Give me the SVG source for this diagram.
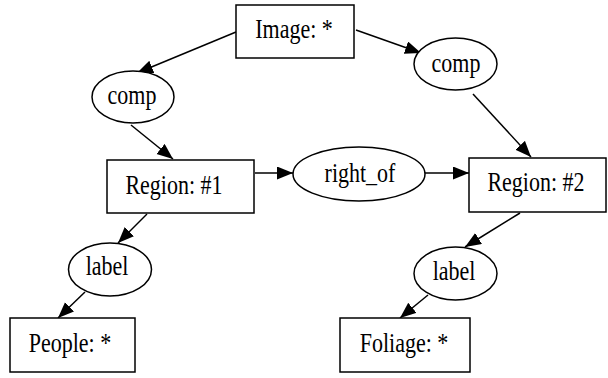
<svg xmlns="http://www.w3.org/2000/svg" width="608" height="378" viewBox="0 0 608 378">
<style>
.n{fill:#fff;stroke:#000;stroke-width:1.5}
.t{font-family:"Liberation Serif","Times New Roman",serif;font-size:22px;fill:#000;text-anchor:middle}
.e{fill:none;stroke:#000;stroke-width:1.5;marker-end:url(#ah)}
</style>
<defs>
<marker id="ah" markerUnits="userSpaceOnUse" markerWidth="18" markerHeight="14" refX="16" refY="6.5" orient="auto">
<path d="M0,0 L16,6.5 L0,13 z" fill="#000"/>
</marker>
</defs>
<rect width="608" height="378" fill="#fff"/>
<g id="connectors">
<line class="e" x1="236" y1="32" x2="137" y2="73"/>
<line class="e" x1="131" y1="125" x2="173" y2="159"/>
<line class="e" x1="356" y1="30" x2="421" y2="53"/>
<line class="e" x1="473" y1="94" x2="531" y2="157"/>
<line class="e" x1="255" y1="173" x2="293" y2="173"/>
<line class="e" x1="425" y1="173" x2="469" y2="173"/>
<line class="e" x1="147" y1="214" x2="118" y2="243"/>
<line class="e" x1="85" y1="292" x2="58" y2="318"/>
<line class="e" x1="520" y1="213" x2="465" y2="247"/>
<line class="e" x1="428" y1="295" x2="400" y2="318"/>
</g>
<g id="image"><rect class="n" x="236" y="5" width="118" height="53"/><text class="t" transform="translate(294,37.5) scale(1,1.2)">Image: *</text></g>
<g id="comp1"><ellipse class="n" cx="133" cy="97" rx="41" ry="26"/><text class="t" transform="translate(132,104) scale(1,1.2)">comp</text></g>
<g id="comp2"><ellipse class="n" cx="455.5" cy="64" rx="41.5" ry="26"/><text class="t" transform="translate(456,72) scale(1,1.2)">comp</text></g>
<g id="region1"><rect class="n" x="107" y="160" width="147" height="53"/><text class="t" transform="translate(174,194) scale(1,1.2)">Region: #1</text></g>
<g id="rightof"><ellipse class="n" cx="359" cy="174" rx="66" ry="27"/><text class="t" transform="translate(360,181.5) scale(1,1.2)">right_of</text></g>
<g id="region2"><rect class="n" x="469" y="158" width="137" height="54"/><text class="t" transform="translate(536,191) scale(1,1.2)">Region: #2</text></g>
<g id="label1"><ellipse class="n" cx="110" cy="269.5" rx="41.5" ry="26.5"/><text class="t" transform="translate(107,275) scale(1,1.2)">label</text></g>
<g id="label2"><ellipse class="n" cx="455.5" cy="273.5" rx="41.5" ry="26.5"/><text class="t" transform="translate(454,280) scale(1,1.2)">label</text></g>
<g id="people"><rect class="n" x="10" y="318" width="125" height="54"/><text class="t" transform="translate(70,352) scale(1,1.2)">People: *</text></g>
<g id="foliage"><rect class="n" x="340" y="318" width="130" height="54"/><text class="t" transform="translate(404,352) scale(1,1.2)">Foliage: *</text></g>
</svg>
